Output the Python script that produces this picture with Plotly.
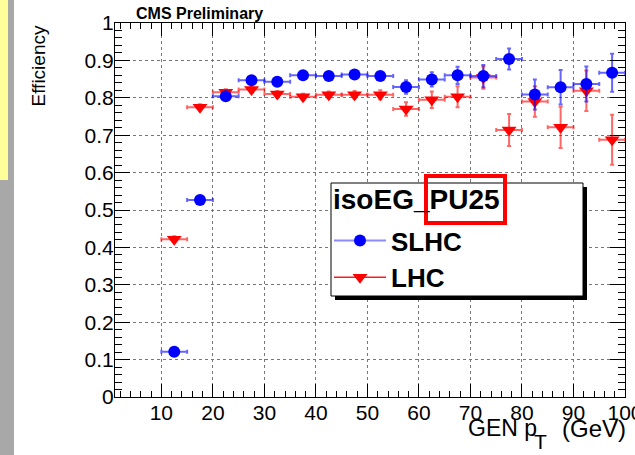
import plotly.graph_objects as go

# ---- data ----
pt_bins = [12.5, 17.5, 22.5, 27.5, 32.5, 37.5, 42.5, 47.5, 52.5,
           57.5, 62.5, 67.5, 72.5, 77.5, 82.5, 87.5, 92.5, 97.5]
pt_halfwidth = [2.5] * 18
slhc_eff = [0.121, 0.527, 0.804, 0.847, 0.843, 0.860, 0.858, 0.862, 0.858,
            0.829, 0.849, 0.860, 0.858, 0.904, 0.809, 0.828, 0.837, 0.867]
slhc_err = [0.006, 0.008, 0.008, 0.008, 0.008, 0.008, 0.008, 0.009, 0.010,
            0.018, 0.019, 0.023, 0.030, 0.028, 0.040, 0.046, 0.047, 0.051]
lhc_eff = [0.422, 0.775, 0.815, 0.822, 0.810, 0.803, 0.808, 0.808, 0.808,
           0.770, 0.795, 0.803, 0.854, 0.714, 0.790, 0.721, 0.819, 0.688]
lhc_err = [0.008, 0.008, 0.008, 0.008, 0.008, 0.008, 0.009, 0.010, 0.012,
           0.018, 0.022, 0.028, 0.030, 0.043, 0.041, 0.055, 0.054, 0.067]
series_names = ["SLHC", "LHC"]
legend_title = "isoEG_PU25"
x_ticks = [10, 20, 30, 40, 50, 60, 70, 80, 90, 100]
y_ticks = [0, 0.1, 0.2, 0.3, 0.4, 0.5, 0.6, 0.7, 0.8, 0.9, 1]

FONT = "Liberation Sans, Arial, sans-serif"
W, H = 635, 455
L, R, T, B = 115, 10, 23, 58
PW, PH = W - L - R, H - T - B

def px(xp):
    return (xp - L) / PW

def py(yp):
    return (H - B - yp) / PH

fig = go.Figure()

# data traces
fig.add_trace(go.Scatter(
    x=pt_bins, y=lhc_eff, mode="markers", showlegend=False,
    marker=dict(symbol="triangle-down", size=13, color="#ff0000"),
    error_x=dict(type="data", array=pt_halfwidth, color="rgba(255,0,0,0.6)", thickness=2, width=2),
    error_y=dict(type="data", array=lhc_err, color="rgba(255,0,0,0.6)", thickness=2, width=2),
))
fig.add_trace(go.Scatter(
    x=pt_bins, y=slhc_eff, mode="markers", showlegend=False,
    marker=dict(symbol="circle", size=12, color="#0000ff"),
    error_x=dict(type="data", array=pt_halfwidth, color="rgba(0,0,255,0.6)", thickness=2, width=2),
    error_y=dict(type="data", array=slhc_err, color="rgba(0,0,255,0.6)", thickness=2, width=2),
))
# legend entries
fig.add_trace(go.Scatter(
    x=[None], y=[None], mode="lines+markers", name=series_names[0],
    line=dict(color="rgba(60,60,255,0.6)", width=2),
    marker=dict(symbol="circle", size=12, color="#0000ff"),
))
fig.add_trace(go.Scatter(
    x=[None], y=[None], mode="lines+markers", name=series_names[1],
    line=dict(color="rgba(255,0,0,0.9)", width=1.5),
    marker=dict(symbol="triangle-down", size=13, color="#ff0000"),
))

axis_common = dict(
    showline=True, linecolor="black", linewidth=1, mirror="allticks",
    ticks="inside", tickcolor="black", zeroline=False,
    showgrid=True, gridcolor="#777777", griddash="dot", gridwidth=1,
    tickfont=dict(family=FONT, size=21, color="black"),
    ticklabeloverflow="allow", automargin=False,
)

fig.update_layout(
    width=W, height=H,
    margin=dict(l=L, r=R, t=T, b=B, autoexpand=False),
    paper_bgcolor="white", plot_bgcolor="white",
    xaxis=dict(range=[1, 100], tickvals=x_ticks, ticklen=13, ticklabelstandoff=-3,
               minor=dict(dtick=2, tick0=0, ticks="inside", ticklen=6, tickcolor="black", showgrid=False),
               **axis_common),
    yaxis=dict(range=[0, 1], tickvals=y_ticks, ticklen=15, ticklabelstandoff=-4,
               minor=dict(dtick=0.02, tick0=0, ticks="inside", ticklen=7, tickcolor="black", showgrid=False),
               **axis_common),
    showlegend=True,
    legend=dict(
        x=px(329), y=py(217), xanchor="left", yanchor="top",
        bgcolor="rgba(0,0,0,0)", borderwidth=0,
        font=dict(family=FONT, size=26, color="black", weight="bold"),
        itemwidth=52, tracegroupgap=0,
    ),
)

shapes = []
# left decorative strips
shapes.append(dict(type="rect", xref="paper", yref="paper",
                   x0=px(0), x1=px(14), y0=py(H), y1=py(0),
                   fillcolor="#a8a8a8", line=dict(width=0), layer="above"))
shapes.append(dict(type="rect", xref="paper", yref="paper",
                   x0=px(0), x1=px(8), y0=py(180), y1=py(0),
                   fillcolor="#ffff99", line=dict(width=0), layer="above"))
# legend box shadow + box
shapes.append(dict(type="rect", xref="paper", yref="paper",
                   x0=px(335), x1=px(587), y0=py(300), y1=py(187),
                   fillcolor="black", line=dict(width=0), layer="above"))
shapes.append(dict(type="rect", xref="paper", yref="paper",
                   x0=px(331), x1=px(583), y0=py(296), y1=py(183),
                   fillcolor="white", line=dict(color="black", width=1), layer="above"))
# red highlight box around PU25
shapes.append(dict(type="rect", xref="paper", yref="paper",
                   x0=px(426), x1=px(505), y0=py(223), y1=py(176),
                   fillcolor="rgba(0,0,0,0)", line=dict(color="#ff0000", width=4), layer="above"))
fig.update_layout(shapes=shapes)

fig.add_annotation(text="<b>" + legend_title + "</b>", xref="paper", yref="paper",
                   x=px(331), y=py(199), xanchor="left", yanchor="middle", showarrow=False,
                   font=dict(family=FONT, size=28, color="black"))
fig.add_annotation(text="CMS Preliminary", xref="paper", yref="paper",
                   x=px(134), y=py(3), xanchor="left", yanchor="top", showarrow=False,
                   font=dict(family=FONT, size=16, color="black", weight="bold"))
# x-axis title pieces: "GEN p", subscript "T", "(GeV)"
fig.add_annotation(text="GEN p", xref="paper", yref="paper",
                   x=px(466), y=py(413), xanchor="left", yanchor="top", showarrow=False,
                   font=dict(family=FONT, size=23, color="black"))
fig.add_annotation(text="T", xref="paper", yref="paper",
                   x=px(540), y=py(428), xanchor="center", yanchor="top", showarrow=False,
                   font=dict(family=FONT, size=21, color="black"))
fig.add_annotation(text="(GeV)", xref="paper", yref="paper",
                   x=px(628), y=py(413), xanchor="right", yanchor="top", showarrow=False,
                   font=dict(family=FONT, size=24, color="black"))
fig.add_annotation(text="Efficiency", xref="paper", yref="paper", textangle=-90,
                   x=px(38), y=py(24), xanchor="center", yanchor="top", showarrow=False,
                   font=dict(family=FONT, size=19, color="black"))

fig.write_html("out.html")
